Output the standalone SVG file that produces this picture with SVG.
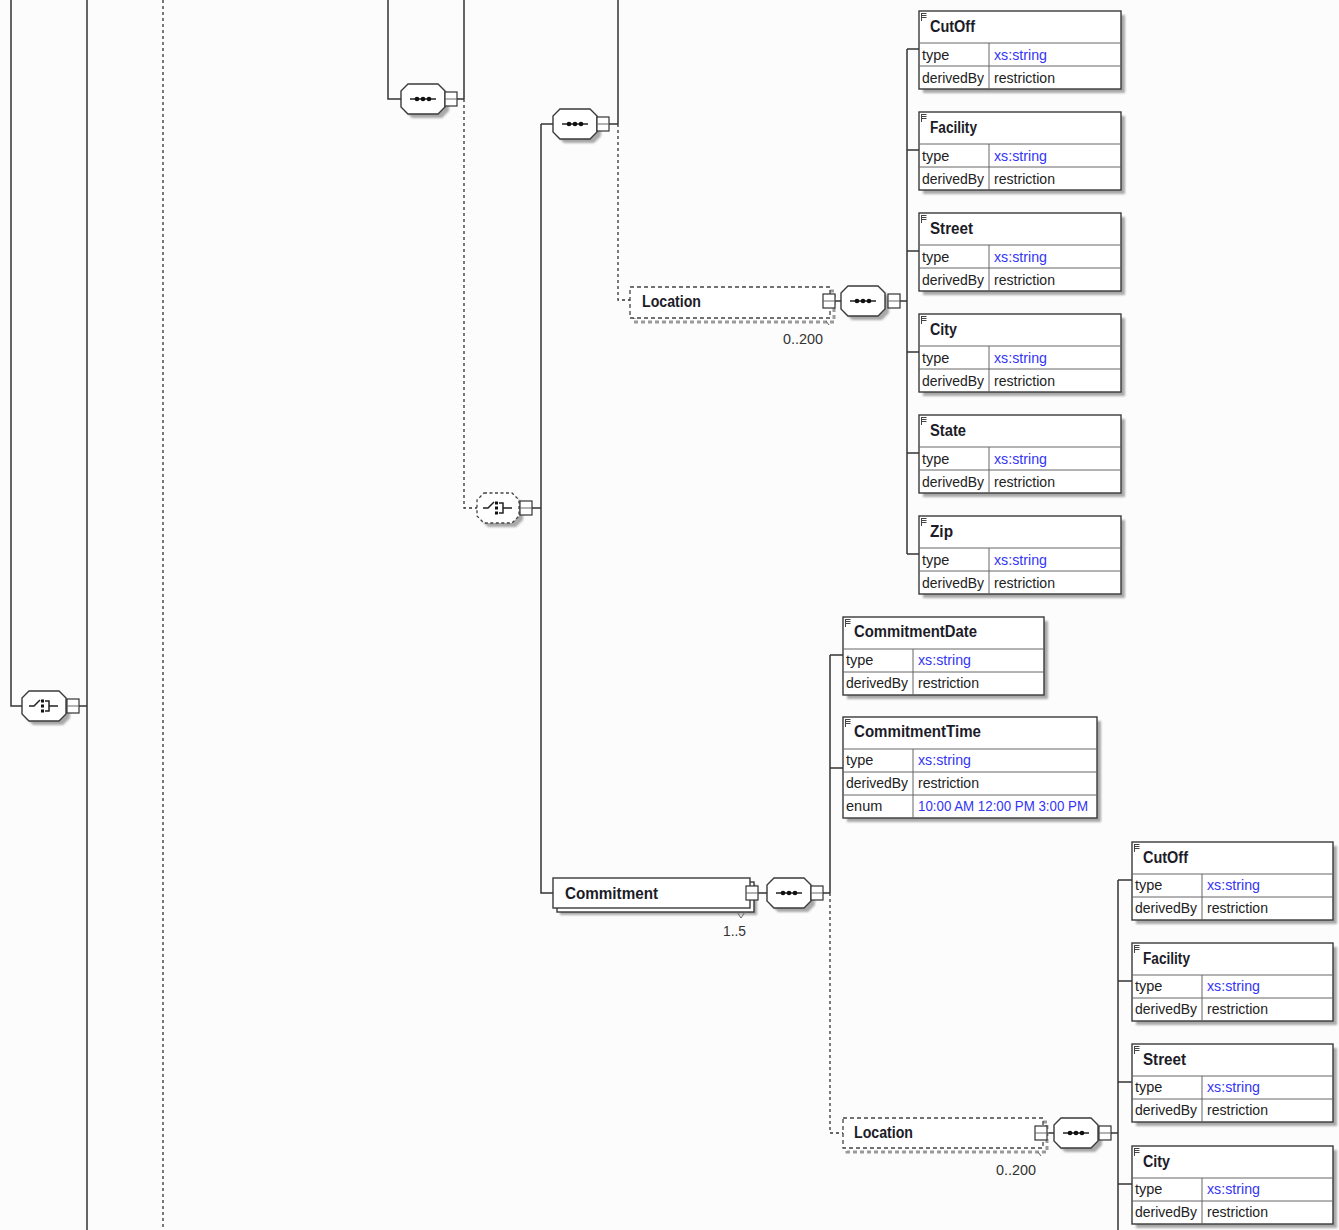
<svg xmlns="http://www.w3.org/2000/svg" xmlns:xlink="http://www.w3.org/1999/xlink" width="1339" height="1230" viewBox="0 0 1339 1230">
<style>
.bg{fill:#fcfcfc}
.ln{fill:none;stroke:#333;stroke-width:1.5}
.dl{fill:none;stroke:#333;stroke-width:1.3;stroke-dasharray:3 3}
.shd{fill:#a8a8a8;filter:url(#blur)}
.box{fill:#fff;stroke:#3a3a3a;stroke-width:1.4}
.grid{fill:none;stroke:#666;stroke-width:1}
.dbox{fill:#fff;stroke:#444;stroke-width:1.3;stroke-dasharray:4 3}
.dshd{fill:none;stroke:#9a9a9a;stroke-width:3;stroke-dasharray:4 3}
.oct{fill:#fff;stroke:#3a3a3a;stroke-width:1.4}
.doct{fill:#fff;stroke:#444;stroke-width:1.3;stroke-dasharray:3 2.5}
.ic{fill:none;stroke:#222;stroke-width:1.5}
.dot{fill:#111}
.mb{fill:#fff;stroke:#333;stroke-width:1.2}
text{font-family:"Liberation Sans",Arial,sans-serif}
.nm{font-size:16px;font-weight:bold;fill:#1c1c28}
.lb{font-size:14.5px;fill:#222}
.ty{font-size:14.5px;fill:#3434f4}
.mul{font-size:14.5px;fill:#333}
.eic{fill:none;stroke:#444;stroke-width:1}
</style>
<defs>
<filter id="blur" x="-10%" y="-20%" width="130%" height="160%"><feGaussianBlur stdDeviation="1.2"/></filter>
<g id="ei"><path class="eic" d="M2.5 2.5H7.5M2.5 4.5H7.5M2.5 6.5H7.5M2.5 2V10"/></g>
<g id="seq">
<polygon class="shd" transform="translate(4,4)" points="7,0 37,0 44,7 44,23 37,30 7,30 0,23 0,7"/>
<polygon class="oct" points="7,0 37,0 44,7 44,23 37,30 7,30 0,23 0,7"/>
<path class="ic" d="M9 15H35"/>
<circle class="dot" cx="16" cy="15" r="2.3"/><circle class="dot" cx="22" cy="15" r="2.3"/><circle class="dot" cx="28" cy="15" r="2.3"/>
</g>
<g id="cho">
<polygon class="shd" transform="translate(4,4)" points="7,0 37,0 44,7 44,23 37,30 7,30 0,23 0,7"/>
<polygon class="oct" points="7,0 37,0 44,7 44,23 37,30 7,30 0,23 0,7"/>
<path class="ic" d="M7 15H12L18 9M23 10H27V20H23M27 15H36"/>
<rect class="dot" x="19" y="8.5" width="3" height="3"/><rect class="dot" x="19" y="13.5" width="3" height="3"/><rect class="dot" x="19" y="18.5" width="3" height="3"/>
</g>
<g id="dcho">
<polygon class="shd" transform="translate(4,4)" points="7,0 35,0 42,7 42,23 35,30 7,30 0,23 0,7"/>
<polygon class="doct" points="7,0 35,0 42,7 42,23 35,30 7,30 0,23 0,7"/>
<path class="ic" d="M6 15H11L17 9M22 10H26V20H22M26 15H35"/>
<rect class="dot" x="18" y="8.5" width="3" height="3"/><rect class="dot" x="18" y="13.5" width="3" height="3"/><rect class="dot" x="18" y="18.5" width="3" height="3"/>
</g>
<g id="mb"><rect class="mb" x="0" y="0" width="12" height="14"/><path class="grid" d="M0 7H12" stroke="#333"/></g>
</defs>
<rect class="bg" x="0" y="0" width="1339" height="1230"/>

<g id="connectors">
<path class="ln" d="M11 0V706H22"/>
<path class="ln" d="M79 706H87M87 0V1230"/>
<path class="dl" d="M163 0V1230"/>
<path class="ln" d="M388 0V99H401"/>
<path class="ln" d="M457 99H464M464 0V99"/>
<path class="dl" d="M464 99V508H477"/>
<path class="ln" d="M532 508H541M541 124V893H553M541 124H553"/>
<path class="ln" d="M609 124H618M618 0V124"/>
<path class="dl" d="M618 124V300H630"/>
<path class="ln" d="M835 301H841M900 301H907M907 49V554"/>
<path class="ln" d="M907 49H919M907 150H919M907 251H919M907 352H919M907 453H919M907 554H919"/>
<path class="ln" d="M758 893H767M823 893H830M830 655V893M830 655H843M830 768H843"/>
<path class="dl" d="M830 893V1133H843"/>
<path class="ln" d="M1047 1133H1054M1111 1133H1118M1118 880V1230"/>
<path class="ln" d="M1118 880H1132M1118 981H1132M1118 1082H1132M1118 1184H1132"/>
</g>

<g id="seq1"><use href="#seq" x="401" y="84"/><use href="#mb" x="445" y="92"/></g>
<g id="seq2"><use href="#seq" x="553" y="109"/><use href="#mb" x="597" y="117"/></g>
<g id="choice-left"><use href="#cho" x="22" y="691"/><use href="#mb" x="67" y="699"/></g>
<g id="choice-mid"><use href="#dcho" x="477" y="493"/><use href="#mb" x="520" y="501"/></g>

<g id="location1">
<rect class="dshd" x="634" y="291" width="200" height="31"/>
<rect class="dbox" x="630" y="287" width="200" height="31"/>
<text class="nm" x="642" y="307" textLength="59" lengthAdjust="spacingAndGlyphs">Location</text>
<use href="#mb" x="823" y="294"/>
<path class="grid" d="M826 321L829 325"/>
<text class="mul" x="783" y="344" textLength="40" lengthAdjust="spacingAndGlyphs">0..200</text>
</g>
<g id="seq-loc1"><use href="#seq" x="841" y="286"/><use href="#mb" x="888" y="294"/></g>

<g id="commitment">
<rect class="shd" x="560" y="885" width="197" height="30"/>
<rect class="box" x="557" y="882" width="197" height="30"/>
<rect class="box" x="553" y="878" width="197" height="30"/>
<text class="nm" x="565" y="899" textLength="93" lengthAdjust="spacingAndGlyphs">Commitment</text>
<use href="#mb" x="746" y="886"/>
<path class="grid" d="M737 912L741 918L745 912"/>
<text class="mul" x="723" y="936" textLength="23" lengthAdjust="spacingAndGlyphs">1..5</text>
</g>
<g id="seq-commit"><use href="#seq" x="767" y="878"/><use href="#mb" x="811" y="886"/></g>

<g id="location2">
<rect class="dshd" x="847" y="1122" width="200" height="30"/>
<rect class="dbox" x="843" y="1118" width="200" height="30"/>
<text class="nm" x="854" y="1138" textLength="59" lengthAdjust="spacingAndGlyphs">Location</text>
<use href="#mb" x="1035" y="1126"/>
<path class="grid" d="M1038 1152L1041 1156"/>
<text class="mul" x="996" y="1175" textLength="40" lengthAdjust="spacingAndGlyphs">0..200</text>
</g>
<g id="seq-loc2"><use href="#seq" x="1054" y="1118"/><use href="#mb" x="1099" y="1126"/></g>

<g id="cutoff1" transform="translate(919,11)">
<rect class="shd" x="4" y="4" width="202" height="78"/><rect class="box" width="202" height="78"/>
<path class="grid" d="M0 32H202M0 55H202M70 32V78"/><use href="#ei"/>
<text class="nm" x="11" y="21" textLength="45" lengthAdjust="spacingAndGlyphs">CutOff</text>
<text class="lb" x="3" y="49">type</text><text class="ty" x="75" y="49" textLength="53" lengthAdjust="spacingAndGlyphs">xs:string</text>
<text class="lb" x="3" y="72" textLength="62" lengthAdjust="spacingAndGlyphs">derivedBy</text><text class="lb" x="75" y="72" textLength="61" lengthAdjust="spacingAndGlyphs">restriction</text>
</g>
<g id="facility1" transform="translate(919,112)">
<rect class="shd" x="4" y="4" width="202" height="78"/><rect class="box" width="202" height="78"/>
<path class="grid" d="M0 32H202M0 55H202M70 32V78"/><use href="#ei"/>
<text class="nm" x="11" y="21" textLength="47" lengthAdjust="spacingAndGlyphs">Facility</text>
<text class="lb" x="3" y="49">type</text><text class="ty" x="75" y="49" textLength="53" lengthAdjust="spacingAndGlyphs">xs:string</text>
<text class="lb" x="3" y="72" textLength="62" lengthAdjust="spacingAndGlyphs">derivedBy</text><text class="lb" x="75" y="72" textLength="61" lengthAdjust="spacingAndGlyphs">restriction</text>
</g>
<g id="street1" transform="translate(919,213)">
<rect class="shd" x="4" y="4" width="202" height="78"/><rect class="box" width="202" height="78"/>
<path class="grid" d="M0 32H202M0 55H202M70 32V78"/><use href="#ei"/>
<text class="nm" x="11" y="21" textLength="43" lengthAdjust="spacingAndGlyphs">Street</text>
<text class="lb" x="3" y="49">type</text><text class="ty" x="75" y="49" textLength="53" lengthAdjust="spacingAndGlyphs">xs:string</text>
<text class="lb" x="3" y="72" textLength="62" lengthAdjust="spacingAndGlyphs">derivedBy</text><text class="lb" x="75" y="72" textLength="61" lengthAdjust="spacingAndGlyphs">restriction</text>
</g>
<g id="city1" transform="translate(919,314)">
<rect class="shd" x="4" y="4" width="202" height="78"/><rect class="box" width="202" height="78"/>
<path class="grid" d="M0 32H202M0 55H202M70 32V78"/><use href="#ei"/>
<text class="nm" x="11" y="21" textLength="27" lengthAdjust="spacingAndGlyphs">City</text>
<text class="lb" x="3" y="49">type</text><text class="ty" x="75" y="49" textLength="53" lengthAdjust="spacingAndGlyphs">xs:string</text>
<text class="lb" x="3" y="72" textLength="62" lengthAdjust="spacingAndGlyphs">derivedBy</text><text class="lb" x="75" y="72" textLength="61" lengthAdjust="spacingAndGlyphs">restriction</text>
</g>
<g id="state1" transform="translate(919,415)">
<rect class="shd" x="4" y="4" width="202" height="78"/><rect class="box" width="202" height="78"/>
<path class="grid" d="M0 32H202M0 55H202M70 32V78"/><use href="#ei"/>
<text class="nm" x="11" y="21" textLength="36" lengthAdjust="spacingAndGlyphs">State</text>
<text class="lb" x="3" y="49">type</text><text class="ty" x="75" y="49" textLength="53" lengthAdjust="spacingAndGlyphs">xs:string</text>
<text class="lb" x="3" y="72" textLength="62" lengthAdjust="spacingAndGlyphs">derivedBy</text><text class="lb" x="75" y="72" textLength="61" lengthAdjust="spacingAndGlyphs">restriction</text>
</g>
<g id="zip1" transform="translate(919,516)">
<rect class="shd" x="4" y="4" width="202" height="78"/><rect class="box" width="202" height="78"/>
<path class="grid" d="M0 32H202M0 55H202M70 32V78"/><use href="#ei"/>
<text class="nm" x="11" y="21" textLength="23" lengthAdjust="spacingAndGlyphs">Zip</text>
<text class="lb" x="3" y="49">type</text><text class="ty" x="75" y="49" textLength="53" lengthAdjust="spacingAndGlyphs">xs:string</text>
<text class="lb" x="3" y="72" textLength="62" lengthAdjust="spacingAndGlyphs">derivedBy</text><text class="lb" x="75" y="72" textLength="61" lengthAdjust="spacingAndGlyphs">restriction</text>
</g>

<g id="commitmentdate" transform="translate(843,617)">
<rect class="shd" x="4" y="4" width="201" height="78"/><rect class="box" width="201" height="78"/>
<path class="grid" d="M0 32H201M0 55H201M70 32V78"/><use href="#ei"/>
<text class="nm" x="11" y="20" textLength="123" lengthAdjust="spacingAndGlyphs">CommitmentDate</text>
<text class="lb" x="3" y="48">type</text><text class="ty" x="75" y="48" textLength="53" lengthAdjust="spacingAndGlyphs">xs:string</text>
<text class="lb" x="3" y="71" textLength="62" lengthAdjust="spacingAndGlyphs">derivedBy</text><text class="lb" x="75" y="71" textLength="61" lengthAdjust="spacingAndGlyphs">restriction</text>
</g>
<g id="commitmenttime" transform="translate(843,717)">
<rect class="shd" x="4" y="4" width="254" height="101"/><rect class="box" width="254" height="101"/>
<path class="grid" d="M0 32H254M0 55H254M0 78H254M70 32V101"/><use href="#ei"/>
<text class="nm" x="11" y="20" textLength="127" lengthAdjust="spacingAndGlyphs">CommitmentTime</text>
<text class="lb" x="3" y="48">type</text><text class="ty" x="75" y="48" textLength="53" lengthAdjust="spacingAndGlyphs">xs:string</text>
<text class="lb" x="3" y="71" textLength="62" lengthAdjust="spacingAndGlyphs">derivedBy</text><text class="lb" x="75" y="71" textLength="61" lengthAdjust="spacingAndGlyphs">restriction</text>
<text class="lb" x="3" y="94">enum</text><text class="ty" x="75" y="94" textLength="170" lengthAdjust="spacingAndGlyphs">10:00 AM 12:00 PM 3:00 PM</text>
</g>

<g id="cutoff2" transform="translate(1132,842)">
<rect class="shd" x="4" y="4" width="201" height="78"/><rect class="box" width="201" height="78"/>
<path class="grid" d="M0 32H201M0 55H201M70 32V78"/><use href="#ei"/>
<text class="nm" x="11" y="21" textLength="45" lengthAdjust="spacingAndGlyphs">CutOff</text>
<text class="lb" x="3" y="48">type</text><text class="ty" x="75" y="48" textLength="53" lengthAdjust="spacingAndGlyphs">xs:string</text>
<text class="lb" x="3" y="71" textLength="62" lengthAdjust="spacingAndGlyphs">derivedBy</text><text class="lb" x="75" y="71" textLength="61" lengthAdjust="spacingAndGlyphs">restriction</text>
</g>
<g id="facility2" transform="translate(1132,943)">
<rect class="shd" x="4" y="4" width="201" height="78"/><rect class="box" width="201" height="78"/>
<path class="grid" d="M0 32H201M0 55H201M70 32V78"/><use href="#ei"/>
<text class="nm" x="11" y="21" textLength="47" lengthAdjust="spacingAndGlyphs">Facility</text>
<text class="lb" x="3" y="48">type</text><text class="ty" x="75" y="48" textLength="53" lengthAdjust="spacingAndGlyphs">xs:string</text>
<text class="lb" x="3" y="71" textLength="62" lengthAdjust="spacingAndGlyphs">derivedBy</text><text class="lb" x="75" y="71" textLength="61" lengthAdjust="spacingAndGlyphs">restriction</text>
</g>
<g id="street2" transform="translate(1132,1044)">
<rect class="shd" x="4" y="4" width="201" height="78"/><rect class="box" width="201" height="78"/>
<path class="grid" d="M0 32H201M0 55H201M70 32V78"/><use href="#ei"/>
<text class="nm" x="11" y="21" textLength="43" lengthAdjust="spacingAndGlyphs">Street</text>
<text class="lb" x="3" y="48">type</text><text class="ty" x="75" y="48" textLength="53" lengthAdjust="spacingAndGlyphs">xs:string</text>
<text class="lb" x="3" y="71" textLength="62" lengthAdjust="spacingAndGlyphs">derivedBy</text><text class="lb" x="75" y="71" textLength="61" lengthAdjust="spacingAndGlyphs">restriction</text>
</g>
<g id="city2" transform="translate(1132,1146)">
<rect class="shd" x="4" y="4" width="201" height="78"/><rect class="box" width="201" height="78"/>
<path class="grid" d="M0 32H201M0 55H201M70 32V78"/><use href="#ei"/>
<text class="nm" x="11" y="21" textLength="27" lengthAdjust="spacingAndGlyphs">City</text>
<text class="lb" x="3" y="48">type</text><text class="ty" x="75" y="48" textLength="53" lengthAdjust="spacingAndGlyphs">xs:string</text>
<text class="lb" x="3" y="71" textLength="62" lengthAdjust="spacingAndGlyphs">derivedBy</text><text class="lb" x="75" y="71" textLength="61" lengthAdjust="spacingAndGlyphs">restriction</text>
</g>
</svg>
